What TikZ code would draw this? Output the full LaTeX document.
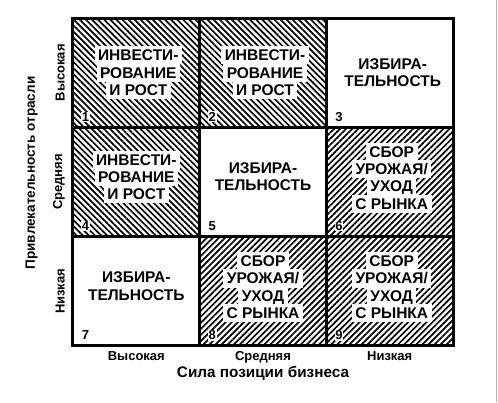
\documentclass[tikz,border=0pt]{standalone}
\usepackage{fontspec}
\setmainfont{Liberation Sans}
\usetikzlibrary{positioning,patterns.meta}
\newcommand{\wl}[1]{\colorbox{white}{#1}}
\setlength{\fboxsep}{3.5pt}
\setlength{\lineskiplimit}{-20pt}

\begin{document}
\begin{tikzpicture}[
        x=1pt, y=-1pt,
        node distance=0pt,
        cell/.style={
            draw=black,
            line width=3pt,
            minimum width=126.7pt,
            minimum height=109.3pt,
            inner sep=0pt,
            outer sep=0pt
        },
        investcell/.style={
            cell,
            pattern={Lines[angle=-45,distance=4.3pt,line width=1.7pt]}
        },
        harvestcell/.style={
            cell,
            pattern={Lines[angle=45,distance=4.3pt,line width=1.7pt]}
        },
        celltext/.style={
            align=center,
            inner sep=0pt,
            font=\fontsize{15.5}{17.3}\selectfont\bfseries
        },
        cellnum/.style={
            anchor=south west,
            inner sep=0.8pt,
            fill=white,
            xshift=8pt,
            yshift=5pt,
            font=\fontsize{13}{13}\selectfont\bfseries
        },
        catlabel/.style={
            inner sep=2pt,
            font=\fontsize{13}{14}\selectfont\bfseries
        },
        axistitle/.style={
            inner sep=2pt,
            font=\fontsize{15.3}{16}\selectfont\bfseries
        }
    ]
        \useasboundingbox (0,0) rectangle (498,402);

        % matrix cells
        \node[investcell] (c1) at (136.3,72.7) {};
        \node[investcell, right=of c1] (c2) {};
        \node[cell, right=of c2] (c3) {};
        \node[investcell, below=of c1] (c4) {};
        \node[cell, right=of c4] (c5) {};
        \node[harvestcell, right=of c5] (c6) {};
        \node[cell, below=of c4] (c7) {};
        \node[harvestcell, right=of c7] (c8) {};
        \node[harvestcell, right=of c8] (c9) {};

        \node[celltext] at ([xshift=2pt]c1) {\wl{ИНВЕСТИ-}\\\wl{РОВАНИЕ}\\\wl{И РОСТ}};
        \node[celltext] at ([xshift=2pt]c2) {\wl{ИНВЕСТИ-}\\\wl{РОВАНИЕ}\\\wl{И РОСТ}};
        \node[celltext] at ([xshift=3pt]c3) {ИЗБИРА-\\ТЕЛЬНОСТЬ};
        \node[celltext] at ([yshift=5pt]c4) {\wl{ИНВЕСТИ-}\\\wl{РОВАНИЕ}\\\wl{И РОСТ}};
        \node[celltext] at ([yshift=5pt]c5) {ИЗБИРА-\\ТЕЛЬНОСТЬ};
        \node[celltext] at ([xshift=2pt,yshift=4pt]c6) {\wl{СБОР}\\\wl{УРОЖАЯ/}\\\wl{УХОД}\\\wl{С РЫНКА}};
        \node[celltext] at ([yshift=5pt]c7) {ИЗБИРА-\\ТЕЛЬНОСТЬ};
        \node[celltext] at ([yshift=4pt]c8) {\wl{СБОР}\\\wl{УРОЖАЯ/}\\\wl{УХОД}\\\wl{С РЫНКА}};
        \node[celltext] at ([xshift=2pt,yshift=4pt]c9) {\wl{СБОР}\\\wl{УРОЖАЯ/}\\\wl{УХОД}\\\wl{С РЫНКА}};

        \node[cellnum] at (c1.south west) {1};
        \node[cellnum] at (c2.south west) {2};
        \node[cellnum] at (c3.south west) {3};
        \node[cellnum] at (c4.south west) {4};
        \node[cellnum] at (c5.south west) {5};
        \node[cellnum] at (c6.south west) {6};
        \node[cellnum] at (c7.south west) {7};
        \node[cellnum] at (c8.south west) {8};
        \node[cellnum] at (c9.south west) {9};

        % axes
        \node[catlabel, rotate=90, anchor=south] (r1) at ([xshift=-6pt]c1.west) {Высокая};
        \node[catlabel, rotate=90, anchor=south] (r4) at ([xshift=-6pt]c4.west) {Средняя};
        \node[catlabel, rotate=90, anchor=south] (r7) at ([xshift=-6pt]c7.west) {Низкая};
        \node[axistitle, rotate=90, anchor=south, font=\fontsize{13.5}{15}\selectfont\bfseries]
            at ([xshift=-11pt,yshift=9pt]r4.north) {Привлекательность отрасли};

        \node[catlabel, anchor=north] (k7) at ([yshift=-3pt]c7.south) {Высокая};
        \node[catlabel, anchor=north] (k8) at ([yshift=-3pt]c8.south) {Средняя};
        \node[catlabel, anchor=north] (k9) at ([yshift=-3pt]c9.south) {Низкая};
        \node[axistitle, below=-1.5pt of k8] {Сила позиции бизнеса};

        \draw[gray!60, line width=0.6pt] (496.5,0) -- (496.5,402);
    \end{tikzpicture}
\end{document}
